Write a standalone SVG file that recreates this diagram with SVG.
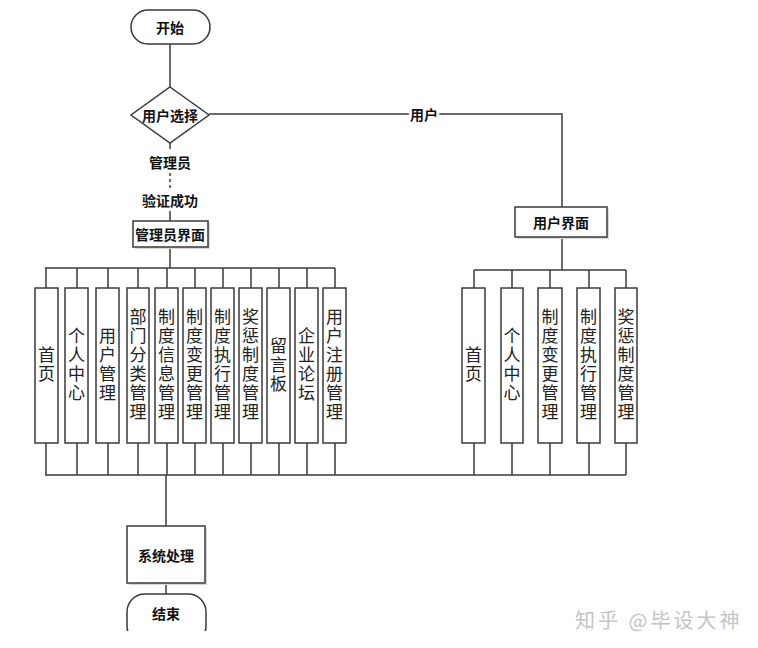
<svg xmlns="http://www.w3.org/2000/svg" width="758" height="648" viewBox="0 0 758 648">
<defs>
<style>
.bg{fill:#ffffff}
.ln{stroke:#3a3a3a;stroke-width:1.5;fill:none}
.dash{stroke:#3a3a3a;stroke-width:1.5;fill:none;stroke-dasharray:3 3}
.box{fill:#ffffff;stroke:#3a3a3a;stroke-width:1.5}
.sh{fill:#d8d8d8}
.lbl{font-family:"Noto Sans CJK SC","Noto Sans",sans-serif;font-size:14px;font-weight:bold;fill:#111;text-anchor:middle;dominant-baseline:central}
.vt{font-family:"Noto Sans CJK SC","Noto Sans",sans-serif;font-size:17px;fill:#222;text-anchor:middle;writing-mode:vertical-rl;letter-spacing:2px}
.wm{font-family:"Noto Sans CJK SC","Noto Sans",sans-serif;font-size:20px;fill:#c4c4c4;dominant-baseline:central;letter-spacing:3px}
</style>
</defs>
<rect class="bg" x="0" y="0" width="758" height="648"/>

<g id="connectors">
<line class="ln" x1="170" y1="44" x2="170" y2="87"/>
<polyline class="ln" points="209,114 562,114 562,207"/>
<line class="ln" x1="170" y1="143" x2="170" y2="149"/>
<line class="dash" x1="170" y1="173" x2="170" y2="190"/>
<line class="ln" x1="170" y1="211" x2="170" y2="221"/>
<line class="ln" x1="170" y1="247" x2="170" y2="268"/>
<line class="ln" x1="45" y1="268" x2="335" y2="268"/>
<path class="ln" d="M46,268V288M77,268V288M108,268V288M138,268V288M167,268V288M195,268V288M223,268V288M251,268V288M279,268V288M307,268V288M335,268V288"/>
<line class="ln" x1="562" y1="237" x2="562" y2="270"/>
<line class="ln" x1="474" y1="270" x2="626" y2="270"/>
<path class="ln" d="M474,270V288M512,270V288M550,270V288M589,270V288M626,270V288"/>
<path class="ln" d="M46,443V475M77,443V475M108,443V475M138,443V475M167,443V475M195,443V475M223,443V475M251,443V475M279,443V475M307,443V475M335,443V475"/>
<path class="ln" d="M474,443V475M512,443V475M550,443V475M589,443V475M626,443V475"/>
<line class="ln" x1="45" y1="475" x2="626" y2="475"/>
<line class="ln" x1="166" y1="475" x2="166" y2="526"/>
<line class="ln" x1="166" y1="583" x2="166" y2="594"/>
<text class="lbl" x="424" y="114" style="paint-order:stroke;stroke:#fff;stroke-width:6px">用户</text>
<text class="lbl" x="170" y="162">管理员</text>
<text class="lbl" x="170" y="200">验证成功</text>
</g>

<g id="start">
<rect class="box" x="131" y="10" width="79" height="34" rx="17"/>
<text class="lbl" x="170" y="27">开始</text>
</g>

<g id="choice">
<polygon class="box" points="170,87 209,115 170,143 131,115"/>
<text class="lbl" x="170" y="115">用户选择</text>
</g>

<g id="admin-ui">
<rect class="sh" x="135" y="223" width="75" height="26"/>
<rect class="box" x="133" y="221" width="75" height="26"/>
<text class="lbl" x="170" y="234">管理员界面</text>
</g>

<g id="user-ui">
<rect class="sh" x="517" y="209" width="92" height="30"/>
<rect class="box" x="515" y="207" width="92" height="30"/>
<text class="lbl" x="561" y="222">用户界面</text>
</g>

<g id="admin-modules">
<g id="a1"><rect class="box" x="35" y="288" width="23" height="155"/><text class="vt" x="46.5" y="365.5">首页</text></g>
<g id="a2"><rect class="box" x="65" y="288" width="23" height="155"/><text class="vt" x="76.5" y="365.5">个人中心</text></g>
<g id="a3"><rect class="box" x="96" y="288" width="23" height="155"/><text class="vt" x="107.5" y="365.5">用户管理</text></g>
<g id="a4"><rect class="box" x="127" y="288" width="22" height="155"/><text class="vt" x="138" y="365.5">部门分类管理</text></g>
<g id="a5"><rect class="box" x="155" y="288" width="23" height="155"/><text class="vt" x="166.5" y="365.5">制度信息管理</text></g>
<g id="a6"><rect class="box" x="183" y="288" width="23" height="155"/><text class="vt" x="194.5" y="365.5">制度变更管理</text></g>
<g id="a7"><rect class="box" x="211" y="288" width="23" height="155"/><text class="vt" x="222.5" y="365.5">制度执行管理</text></g>
<g id="a8"><rect class="box" x="239" y="288" width="23" height="155"/><text class="vt" x="250.5" y="365.5">奖惩制度管理</text></g>
<g id="a9"><rect class="box" x="267" y="288" width="23" height="155"/><text class="vt" x="278.5" y="365.5">留言板</text></g>
<g id="a10"><rect class="box" x="295" y="288" width="23" height="155"/><text class="vt" x="306.5" y="365.5">企业论坛</text></g>
<g id="a11"><rect class="box" x="323" y="288" width="23" height="155"/><text class="vt" x="334.5" y="365.5">用户注册管理</text></g>
</g>

<g id="user-modules">
<g id="u1"><rect class="box" x="462" y="288" width="23" height="155"/><text class="vt" x="473.5" y="365.5">首页</text></g>
<g id="u2"><rect class="box" x="501" y="288" width="22" height="155"/><text class="vt" x="512" y="365.5">个人中心</text></g>
<g id="u3"><rect class="box" x="538" y="288" width="24" height="155"/><text class="vt" x="550" y="365.5">制度变更管理</text></g>
<g id="u4"><rect class="box" x="577" y="288" width="23" height="155"/><text class="vt" x="588.5" y="365.5">制度执行管理</text></g>
<g id="u5"><rect class="box" x="615" y="288" width="22" height="155"/><text class="vt" x="626" y="365.5">奖惩制度管理</text></g>
</g>

<g id="process">
<rect class="sh" x="129" y="528" width="78" height="57"/>
<rect class="box" x="127" y="526" width="78" height="57"/>
<text class="lbl" x="166" y="555">系统处理</text>
</g>

<g id="end">
<rect class="box" x="127" y="594" width="79" height="50" rx="18"/>
<rect class="bg" x="120" y="631" width="100" height="17"/>
<text class="lbl" x="166" y="613">结束</text>
</g>

<text class="wm" x="575" y="619">知乎 @毕设大神</text>
</svg>
